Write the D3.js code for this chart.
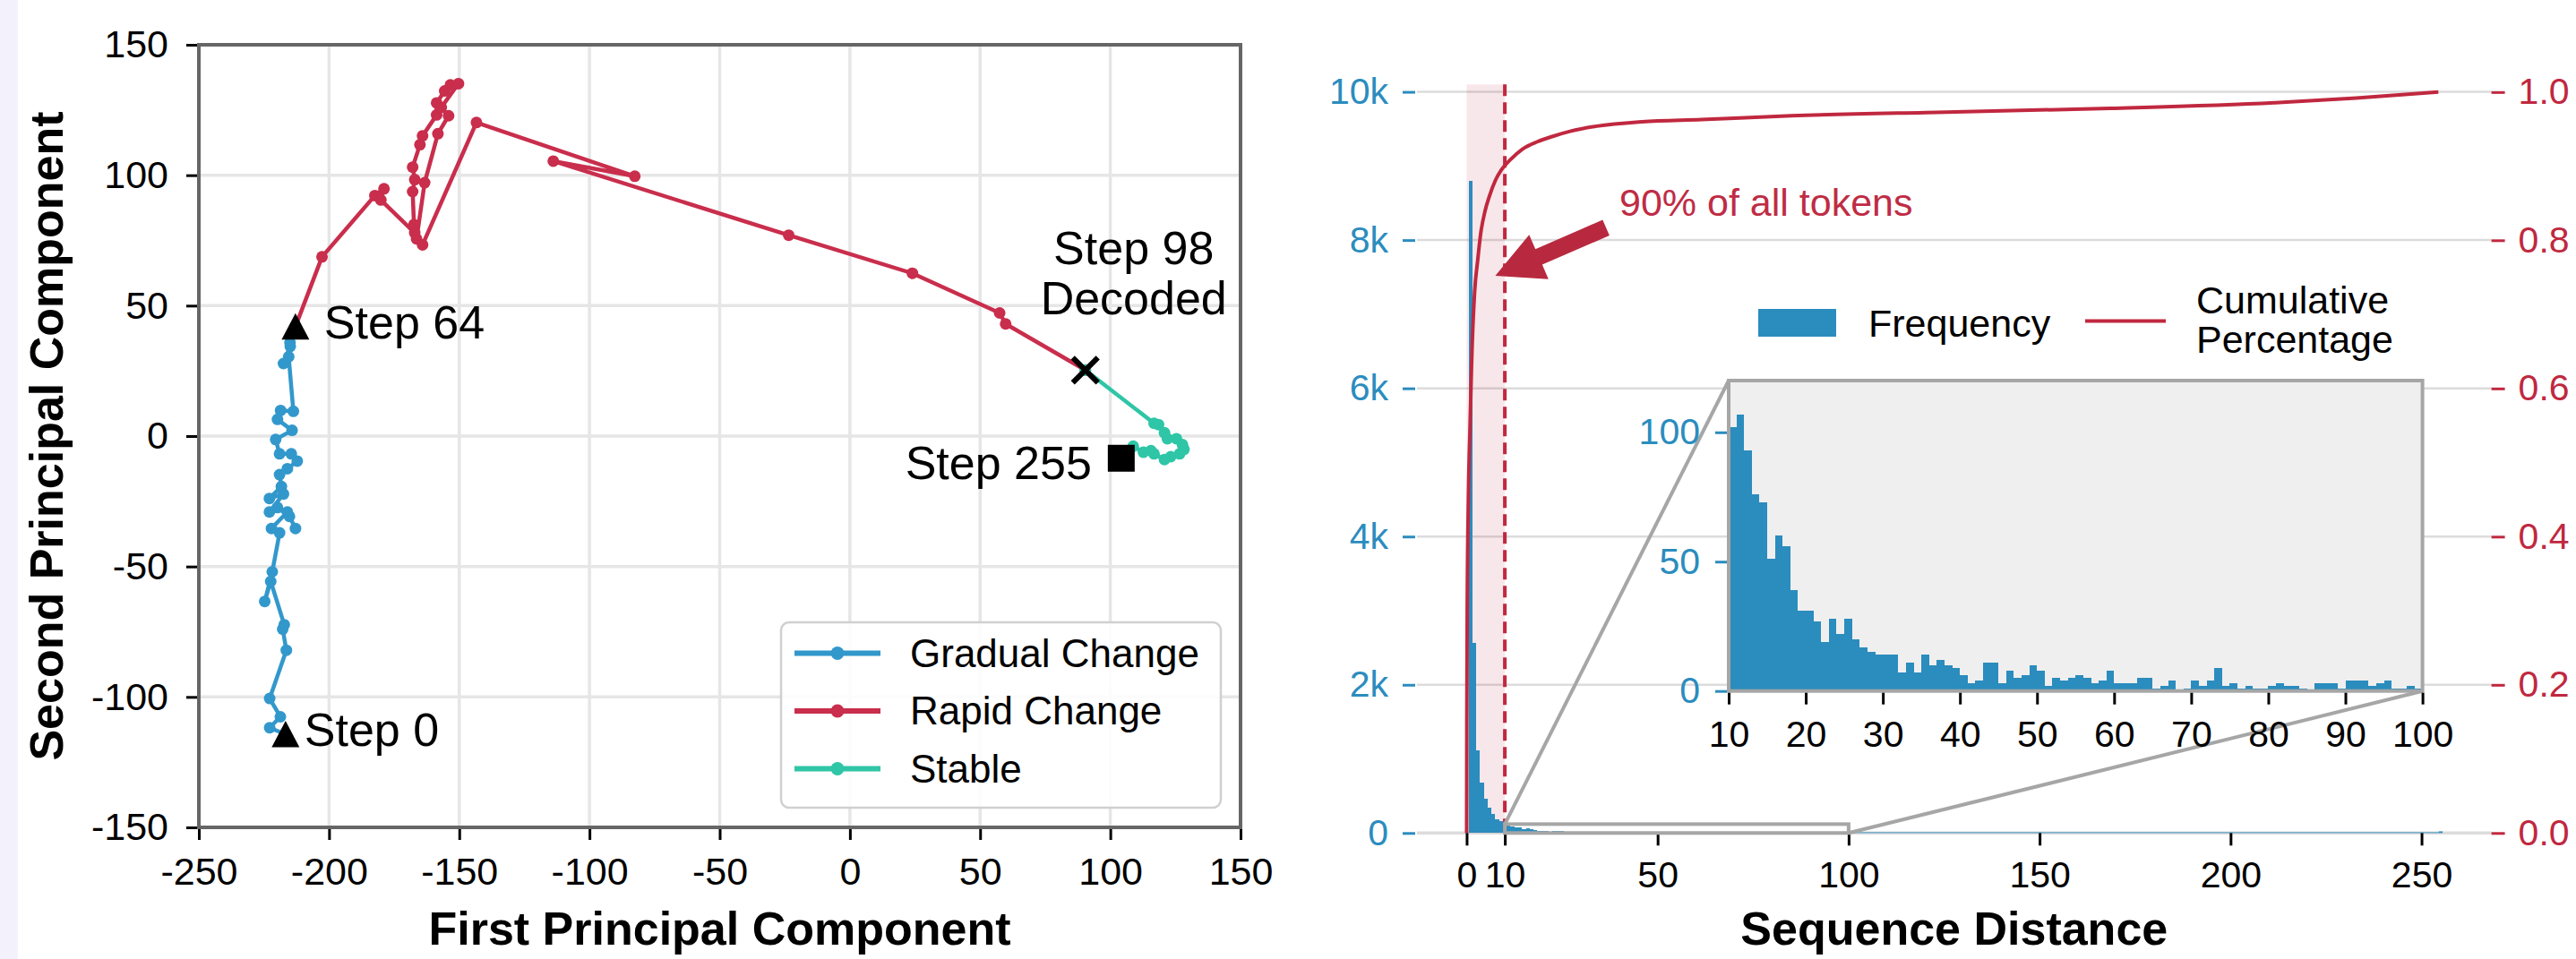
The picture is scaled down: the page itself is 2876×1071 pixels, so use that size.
<!DOCTYPE html>
<html>
<head>
<meta charset="utf-8">
<script src="https://cdn.jsdelivr.net/npm/d3@7"></script>
<style>
  body { margin: 0; background: #fff; }
  text { font-family: "Liberation Sans", Arial, Helvetica, sans-serif; }
</style>
</head>
<body>
<svg id="chart" width="2876" height="1071"></svg>
<script>
// ---------- left panel data (PCA trajectory) ----------
var pcaXTicks = [-250, -200, -150, -100, -50, 0, 50, 100, 150];
var pcaYTicks = [-150, -100, -50, 0, 50, 100, 150];

var gradualPts = [
  [-216.7, -114.3], [-222.8, -111.8], [-218.7, -107.6], [-222.8, -100.6], [-216.4, -82.1],
  [-217.8, -74], [-217.2, -72.3], [-222.4, -55.7], [-224.7, -63.4], [-221.8, -52],
  [-219, -37.1], [-222.1, -35.4], [-216, -29.1], [-212.9, -35.4], [-215.2, -30.8],
  [-219.8, -27.4], [-222.9, -29.1], [-217.5, -22.2], [-222.9, -23.9], [-218.3, -19.3],
  [-219, -14.8], [-216, -12.5], [-212.2, -9.6], [-214.5, -6.8], [-219, -6.8],
  [-220.5, -1.3], [-214.2, 2.2], [-219.8, 6.4], [-218.6, 9.8], [-213.7, 9.5],
  [-215.5, 30.4], [-217.5, 27.8], [-214.9, 34.4], [-215, 35.8], [-212.9, 42]
];
var rapidPts = [
  [-212.9, 42], [-202.7, 68.7], [-182.4, 92.2], [-178.9, 94.8], [-180.1, 90.5],
  [-167.1, 77.9], [-167.4, 81.1], [-167.9, 93.7], [-167.1, 98.3], [-167.9, 103.1],
  [-165.1, 111.7], [-164.1, 115.1], [-158.7, 123.1], [-158.7, 127.7], [-155.6, 132.3],
  [-153.4, 134.6], [-150.3, 135.1], [-156.9, 126], [-154.1, 122.8], [-158.2, 115.9],
  [-163.3, 97.1], [-166.4, 75.6], [-164.1, 73.3], [-143.4, 120.2], [-82.6, 99.6],
  [-113.9, 105.4], [-23.5, 77], [24, 62.4], [57.5, 47.2], [59.8, 43], [90.4, 25.3]
];
var stablePts = [
  [90.4, 25.3], [116.8, 4.9], [118.5, 4.4], [120.8, 1.25], [121.9, -1], [125.4, -1],
  [127.7, -3.3], [128.3, -5.1], [126.6, -6.8], [123.2, -7.9], [120.8, -9], [116.8, -6.8],
  [115.6, -5.6], [112.7, -6.2], [108.8, -3.9]
];
var step0 = [-216.7, -114.3], step64 = [-212.9, 42], step98 = [90.4, 25.3], step255 = [104.2, -8.5];

// ---------- right panel data (sequence distance) ----------
var distTicks = [0, 10, 50, 100, 150, 200, 250];
var freqTicks = [0, 2000, 4000, 6000, 8000, 10000];
var pctTicks = [0, 0.2, 0.4, 0.6, 0.8, 1.0];
var insetXTicks = [10, 20, 30, 40, 50, 60, 70, 80, 90, 100];
var insetYTicks = [0, 50, 100];

// counts for distance 1..9
var headCounts = [8800, 2562, 1112, 680, 466, 346, 254, 185, 164];
// counts for distance 10..99
var insetCounts = [
  102, 107, 93, 76, 73, 51, 60, 56, 39, 31,
  31, 27, 19, 28, 22, 28, 20, 17, 15, 14,
  14, 14, 7, 11, 7, 14, 10, 12, 10, 9,
  6, 3, 4, 11, 11, 3, 8, 5, 6, 10,
  8, 2, 5, 4, 5, 6, 5, 3, 4, 8,
  3, 3, 3, 5, 5, 1, 2, 4, 0, 1,
  4, 2, 4, 9, 2, 3, 1, 2, 1, 1,
  2, 3, 2, 2, 1, 0, 3, 3, 3, 1,
  4, 4, 4, 2, 3, 4, 1, 1, 2, 1
];
// long tail beyond 100: roughly flat, plus last bin
var tailSpan = [100, 255, 3];
var lastBin = [255, 22];

var cumDist = [0, 0.05, 0.15, 0.45, 0.9, 1.3, 2.1, 2.9, 3.65, 4.8, 6.0, 7.55, 9.1, 11.5, 14.6,
               18.5, 22.4, 27.1, 34.1, 45.9, 61.5, 85, 125.5, 168.5, 211.4, 232.9, 254.4];
var cumPct = [0, 0.15, 0.30, 0.45, 0.55, 0.633, 0.731, 0.773, 0.808, 0.839, 0.86, 0.881, 0.895, 0.909, 0.923,
              0.933, 0.940, 0.947, 0.954, 0.960, 0.963, 0.968, 0.973, 0.978, 0.9855, 0.992, 1.0];

var FONT = '"Liberation Sans", Arial, Helvetica, sans-serif';
var cBlue = "#3298cc", cRed = "#c92e4c", cTeal = "#2ec6a6";
var cBar = "#2b8cbe", cCrim = "#c0283f", cGray = "#a6a6a6";

var svg = d3.select("#chart").attr("font-family", FONT);
svg.append("rect").attr("width", 2876).attr("height", 1071).attr("fill", "#fff");
svg.append("rect").attr("width", 20).attr("height", 1071).attr("fill", "#f3f1fb");

// ================= LEFT PANEL =================
var L = {left: 222, right: 1385, top: 50, bottom: 924};
var x1 = d3.scaleLinear().domain([-250, 150]).range([L.left, L.right]);
var y1 = d3.scaleLinear().domain([-150, 150]).range([L.bottom, L.top]);

var gl = svg.append("g");
gl.selectAll(".vg").data(pcaXTicks).enter().append("line")
  .attr("x1", d => x1(d)).attr("x2", d => x1(d)).attr("y1", L.top).attr("y2", L.bottom)
  .attr("stroke", "#e6e6e6").attr("stroke-width", 3.5);
gl.selectAll(".hg").data(pcaYTicks).enter().append("line")
  .attr("y1", d => y1(d)).attr("y2", d => y1(d)).attr("x1", L.left).attr("x2", L.right)
  .attr("stroke", "#e6e6e6").attr("stroke-width", 3.5);

var gx1 = svg.append("g").attr("transform", "translate(0," + L.bottom + ")")
  .call(d3.axisBottom(x1).tickValues(pcaXTicks).tickFormat(d => String(d)).tickSize(14).tickPadding(19))
  .attr("font-size", 43).attr("font-family", FONT);
gx1.select(".domain").remove();
gx1.selectAll("line").attr("stroke", "#000").attr("stroke-width", 3);
gx1.selectAll("text").attr("fill", "#000");

var gy1 = svg.append("g").attr("transform", "translate(" + L.left + ",0)")
  .call(d3.axisLeft(y1).tickValues(pcaYTicks).tickFormat(d => String(d)).tickSize(14).tickPadding(20))
  .attr("font-size", 43).attr("font-family", FONT);
gy1.select(".domain").remove();
gy1.selectAll("line").attr("stroke", "#000").attr("stroke-width", 3);
gy1.selectAll("text").attr("fill", "#000");

var line1 = d3.line().x(d => x1(d[0])).y(d => y1(d[1]));
[[gradualPts, cBlue], [rapidPts, cRed], [stablePts, cTeal]].forEach(function (s) {
  svg.append("path").datum(s[0]).attr("d", line1).attr("fill", "none")
    .attr("stroke", s[1]).attr("stroke-width", 4.5).attr("stroke-linejoin", "round");
  svg.append("g").selectAll("circle").data(s[0]).enter().append("circle")
    .attr("cx", d => x1(d[0])).attr("cy", d => y1(d[1])).attr("r", 6.5).attr("fill", s[1]);
});

svg.append("rect").attr("x", L.left).attr("y", L.top)
  .attr("width", L.right - L.left).attr("height", L.bottom - L.top)
  .attr("fill", "none").attr("stroke", "#666").attr("stroke-width", 4);

// markers
function tri(p) {
  var cx = x1(p[0]), cy = y1(p[1]);
  return "M" + cx + "," + (cy - 15) + "L" + (cx - 15.5) + "," + (cy + 14.5) + "L" + (cx + 15.5) + "," + (cy + 14.5) + "Z";
}
svg.append("path").attr("d", tri(step0)).attr("fill", "#000");
svg.append("path").attr("d", tri(step64)).attr("fill", "#000");
var xc = x1(step98[0]), yc = y1(step98[1]);
svg.append("path").attr("d", "M" + (xc - 14) + "," + (yc - 14) + "L" + (xc + 14) + "," + (yc + 14) +
  "M" + (xc - 14) + "," + (yc + 14) + "L" + (xc + 14) + "," + (yc - 14))
  .attr("stroke", "#000").attr("stroke-width", 6);
svg.append("rect").attr("x", x1(step255[0]) - 15).attr("y", y1(step255[1]) - 15)
  .attr("width", 30).attr("height", 30).attr("fill", "#000");

function ann(txt, x, y, anchor) {
  svg.append("text").attr("x", x).attr("y", y).attr("text-anchor", anchor || "start")
    .attr("font-size", 52).attr("fill", "#000").text(txt);
}
ann("Step 0", x1(step0[0]) + 21, y1(step0[1]) + 13);
ann("Step 64", x1(step64[0]) + 32, y1(step64[1]) + 13);
ann("Step 98", xc + 54, yc - 118, "middle");
ann("Decoded", xc + 54, yc - 62, "middle");
ann("Step 255", x1(step255[0]) - 33, y1(step255[1]) + 23, "end");

// axis titles
svg.append("text").attr("x", (L.left + L.right) / 2).attr("y", 1055).attr("text-anchor", "middle")
  .attr("font-size", 52).attr("font-weight", "bold").text("First Principal Component");
svg.append("text").attr("transform", "translate(51," + (L.top + L.bottom) / 2 + ") rotate(-90)")
  .attr("dy", "0.36em").attr("text-anchor", "middle")
  .attr("font-size", 52).attr("font-weight", "bold").text("Second Principal Component");

// legend
var legNames = ["Gradual Change", "Rapid Change", "Stable"];
var legCols = [cBlue, cRed, cTeal];
svg.append("rect").attr("x", 872).attr("y", 695).attr("width", 491).attr("height", 207).attr("rx", 9)
  .attr("fill", "#fff").attr("fill-opacity", 0.85).attr("stroke", "#d0d0d0").attr("stroke-width", 2.5);
legNames.forEach(function (n, i) {
  var ly = 729.5 + i * 64.5;
  svg.append("line").attr("x1", 887).attr("x2", 983).attr("y1", ly).attr("y2", ly)
    .attr("stroke", legCols[i]).attr("stroke-width", 6);
  svg.append("circle").attr("cx", 935).attr("cy", ly).attr("r", 7.5).attr("fill", legCols[i]);
  svg.append("text").attr("x", 1016).attr("y", ly).attr("dy", "0.35em").attr("font-size", 44).text(n);
});

// ================= RIGHT PANEL =================
var R = {left: 1582, right: 2781.6, top: 94.3, bottom: 930.3};
var x2 = d3.scaleLinear().domain([-13, 268.3]).range([R.left, R.right]);
var yF = d3.scaleLinear().domain([0, 10100]).range([R.bottom, R.top]);
var yP = d3.scaleLinear().domain([0, 1.0103]).range([R.bottom, R.top]);

svg.append("g").selectAll("line").data(freqTicks).enter().append("line")
  .attr("x1", R.left).attr("x2", R.right).attr("y1", d => yF(d)).attr("y2", d => yF(d))
  .attr("stroke", "#dcdcdc").attr("stroke-width", d => d === 0 ? 3.5 : 2.5);

// shaded 0-10 region
svg.append("rect").attr("x", x2(0)).attr("y", R.top).attr("width", x2(10) - x2(0))
  .attr("height", R.bottom - R.top).attr("fill", cCrim).attr("fill-opacity", 0.11);

// histogram bars
var headData = headCounts.map((c, i) => [i + 1, c]);
var midData = insetCounts.map((c, i) => [i + 10, c]);
svg.append("g").selectAll("rect").data(headData.concat(midData)).enter().append("rect")
  .attr("x", d => x2(d[0] - 0.5)).attr("width", d => x2(d[0] + 0.5) - x2(d[0] - 0.5))
  .attr("y", d => yF(d[1])).attr("height", d => yF(0) - yF(d[1]))
  .attr("fill", cBar).attr("shape-rendering", "crispEdges");
svg.append("rect").attr("x", x2(tailSpan[0] - 0.5)).attr("width", x2(tailSpan[1] - 0.5) - x2(tailSpan[0] - 0.5))
  .attr("y", yF(tailSpan[2]) - 0.6).attr("height", yF(0) - yF(tailSpan[2]) + 0.6).attr("fill", cBar);
svg.append("rect").attr("x", x2(lastBin[0] - 0.5)).attr("width", x2(lastBin[0] + 0.5) - x2(lastBin[0] - 0.5))
  .attr("y", yF(lastBin[1])).attr("height", yF(0) - yF(lastBin[1])).attr("fill", cBar);

// 90% threshold line
svg.append("line").attr("x1", x2(10)).attr("x2", x2(10)).attr("y1", R.top).attr("y2", R.bottom)
  .attr("stroke", cCrim).attr("stroke-width", 4).attr("stroke-dasharray", "13,7");

// cumulative curve
var cumData = cumDist.map((d, i) => [d, cumPct[i]]);
svg.append("path").datum(cumData)
  .attr("d", d3.line().x(d => x2(d[0])).y(d => yP(d[1])).curve(d3.curveMonotoneX))
  .attr("fill", "none").attr("stroke", cCrim).attr("stroke-width", 4);

// axes
var gx2 = svg.append("g").attr("transform", "translate(0," + R.bottom + ")")
  .call(d3.axisBottom(x2).tickValues(distTicks).tickSize(14).tickPadding(18))
  .attr("font-size", 41).attr("font-family", FONT);
gx2.select(".domain").remove();
gx2.selectAll("line").attr("stroke", "#000").attr("stroke-width", 3);
gx2.selectAll("text").attr("fill", "#000");

var gy2 = svg.append("g").attr("transform", "translate(" + (R.left - 2) + ",0)")
  .call(d3.axisLeft(yF).tickValues(freqTicks).tickFormat(d => d === 0 ? "0" : (d / 1000) + "k").tickSize(14).tickPadding(16))
  .attr("font-size", 41).attr("font-family", FONT);
gy2.select(".domain").remove();
gy2.selectAll("line").attr("stroke", cBar).attr("stroke-width", 3);
gy2.selectAll("text").attr("fill", cBar);

var gy3 = svg.append("g").attr("transform", "translate(" + R.right + ",0)")
  .call(d3.axisRight(yP).tickValues(pctTicks).tickFormat(d3.format(".1f")).tickSize(15).tickPadding(15))
  .attr("font-size", 41).attr("font-family", FONT);
gy3.select(".domain").remove();
gy3.selectAll("line").attr("stroke", cCrim).attr("stroke-width", 3);
gy3.selectAll("text").attr("fill", cCrim);

svg.append("text").attr("x", (R.left + R.right) / 2).attr("y", 1055).attr("text-anchor", "middle")
  .attr("font-size", 52).attr("font-weight", "bold").text("Sequence Distance");

// annotation arrow (data coords: tip and tail)
var arrTip = [7.5, 0.752], arrTail = [36.5, 0.817];
(function () {
  var tx = x2(arrTip[0]), ty = yP(arrTip[1]), sx = x2(arrTail[0]), sy = yP(arrTail[1]);
  var len = Math.hypot(sx - tx, sy - ty), ux = (sx - tx) / len, uy = (sy - ty) / len;
  var nx = -uy, ny = ux, hl = 53, hw = 27, bw = 9.5;
  var bx = tx + ux * hl, by = ty + uy * hl;
  var pts = [[tx, ty], [bx + nx * hw, by + ny * hw], [bx + nx * bw, by + ny * bw],
             [sx + nx * bw, sy + ny * bw], [sx - nx * bw, sy - ny * bw],
             [bx - nx * bw, by - ny * bw], [bx - nx * hw, by - ny * hw]];
  svg.append("path").attr("d", "M" + pts.map(p => p.join(",")).join("L") + "Z").attr("fill", "#b8293f");
})();
svg.append("text").attr("x", 1808).attr("y", 225.4).attr("dy", "0.36em").attr("font-size", 43)
  .attr("fill", "#bf2c45").text("90% of all tokens");

// legend (right)
svg.append("rect").attr("x", 1963).attr("y", 345).attr("width", 87).attr("height", 31).attr("fill", cBar);
svg.append("text").attr("x", 2086).attr("y", 361).attr("dy", "0.35em").attr("font-size", 43).text("Frequency");
svg.append("line").attr("x1", 2328).attr("x2", 2418).attr("y1", 358.6).attr("y2", 358.6)
  .attr("stroke", cCrim).attr("stroke-width", 4);
svg.append("text").attr("x", 2452).attr("y", 334.7).attr("dy", "0.35em").attr("font-size", 43).text("Cumulative");
svg.append("text").attr("x", 2452).attr("y", 379).attr("dy", "0.35em").attr("font-size", 43).text("Percentage");

// ---------- inset ----------
var I = {left: 1930, right: 2704.6, top: 425, bottom: 771.7};
var xi = d3.scaleLinear().domain([10, 100]).range([I.left, I.right]);
var yi = d3.scaleLinear().domain([0, 120]).range([I.bottom, I.top]);

// zoom indicator + connectors
svg.append("rect").attr("x", x2(10)).attr("y", yF(120)).attr("width", x2(100) - x2(10))
  .attr("height", yF(0) - yF(120)).attr("fill", "none").attr("stroke", cGray).attr("stroke-width", 4);
svg.append("line").attr("x1", x2(10)).attr("y1", yF(120)).attr("x2", I.left).attr("y2", I.top)
  .attr("stroke", cGray).attr("stroke-width", 4);
svg.append("line").attr("x1", x2(100)).attr("y1", yF(0)).attr("x2", I.right).attr("y2", I.bottom)
  .attr("stroke", cGray).attr("stroke-width", 4);

svg.append("rect").attr("x", I.left).attr("y", I.top).attr("width", I.right - I.left)
  .attr("height", I.bottom - I.top).attr("fill", "#efefef");
svg.append("g").selectAll("rect").data(midData).enter().append("rect")
  .attr("x", d => xi(d[0])).attr("width", d => xi(d[0] + 1) - xi(d[0]))
  .attr("y", d => yi(d[1])).attr("height", d => yi(0) - yi(d[1]))
  .attr("fill", cBar).attr("shape-rendering", "crispEdges");
svg.append("rect").attr("x", I.left).attr("y", I.top).attr("width", I.right - I.left)
  .attr("height", I.bottom - I.top).attr("fill", "none").attr("stroke", cGray).attr("stroke-width", 4);

var gxi = svg.append("g").attr("transform", "translate(0," + (I.bottom + 2) + ")")
  .call(d3.axisBottom(xi).tickValues(insetXTicks).tickSize(13).tickPadding(18))
  .attr("font-size", 41).attr("font-family", FONT);
gxi.select(".domain").remove();
gxi.selectAll("line").attr("stroke", "#000").attr("stroke-width", 3);
gxi.selectAll("text").attr("fill", "#000");

var gyi = svg.append("g").attr("transform", "translate(" + (I.left - 2) + ",0)")
  .call(d3.axisLeft(yi).tickValues(insetYTicks).tickSize(13).tickPadding(17))
  .attr("font-size", 41).attr("font-family", FONT);
gyi.select(".domain").remove();
gyi.selectAll("line").attr("stroke", cBar).attr("stroke-width", 3);
gyi.selectAll("text").attr("fill", cBar);
</script>
</body>
</html>
